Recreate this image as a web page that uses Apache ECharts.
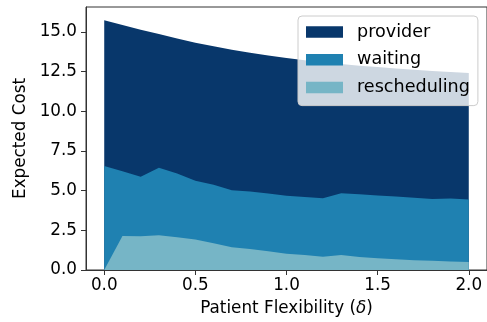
<!DOCTYPE html>
<html>
<head>
<meta charset="utf-8">
<script src="https://cdn.jsdelivr.net/npm/echarts@6/dist/echarts.min.js"></script>
<style>html,body{margin:0;padding:0;background:#fff}#c{width:487px;height:322px}</style>
</head>
<body>
<div id="c"></div>
<script>
const flexibility = [0, 0.1, 0.2, 0.3, 0.4, 0.5, 0.6, 0.7, 0.8, 0.9, 1.0, 1.1, 1.2, 1.3, 1.4, 1.5, 1.6, 1.7, 1.8, 1.9, 2.0];
const rescheduling = [0, 2.15, 2.13, 2.19, 2.07, 1.92, 1.68, 1.43, 1.33, 1.18, 1.03, 0.95, 0.84, 0.95, 0.82, 0.74, 0.68, 0.62, 0.58, 0.54, 0.50];
const waiting = [6.55, 4.07, 3.75, 4.26, 4.01, 3.70, 3.69, 3.60, 3.62, 3.64, 3.65, 3.65, 3.68, 3.89, 3.95, 3.96, 3.95, 3.94, 3.90, 3.96, 3.94];
const provider = [9.20, 9.23, 9.27, 8.43, 8.52, 8.71, 8.73, 8.85, 8.75, 8.70, 8.69, 8.63, 8.58, 8.14, 8.11, 8.09, 8.07, 8.06, 8.07, 7.98, 7.98];
const xTicks = [0, 0.5, 1.0, 1.5, 2.0];
const yTicks = [0, 2.5, 5, 7.5, 10, 12.5, 15];

const FONT = 'DejaVu Sans';
const FS = 16.8;
const colors = {provider: '#08376b', waiting: '#1f81b1', rescheduling: '#76b5c6'};

// stack order bottom -> top: rescheduling, waiting, provider (cumulative built from the arrays)
const layers = [['rescheduling', rescheduling], ['waiting', waiting], ['provider', provider]];
const cumulative = {};
let running = flexibility.map(() => 0);
layers.forEach(([name, vals]) => {
  running = running.map((s, i) => s + vals[i]);
  cumulative[name] = running.slice();
});

function areaSeries(name, z) {
  return {
    name: name, type: 'line', data: cumulative[name].map((v, i) => [flexibility[i], v]),
    symbol: 'none', lineStyle: {width: 0}, smooth: false, z: z,
    itemStyle: {color: colors[name]},
    areaStyle: {color: colors[name], opacity: 1, origin: 'start'},
    emphasis: {disabled: true}
  };
}

const chart = echarts.init(document.getElementById('c'), null, {renderer: 'canvas'});
chart.setOption({
  animation: false,
  grid: {left: 86, top: 7, right: -2, bottom: 52, show: true, borderColor: '#333', borderWidth: 1, backgroundColor: 'transparent'},
  legend: {
    data: ['provider', 'waiting', 'rescheduling'],
    orient: 'vertical', left: 298, top: 16,
    padding: [7, 8, 9, 8],
    itemWidth: 37, itemHeight: 11.5, itemGap: 9.8,
    icon: 'rect',
    backgroundColor: 'rgba(255,255,255,0.8)',
    borderColor: '#cccccc', borderWidth: 1, borderRadius: 4,
    textStyle: {fontFamily: FONT, fontSize: 17.6, color: '#000', padding: [0, 0, 0, 9], lineHeight: 17},
    selectedMode: false
  },
  xAxis: {
    type: 'value', min: -0.1, max: 2.1,
    name: 'Patient Flexibility ({i|δ})', nameLocation: 'middle', nameGap: 30,
    nameTextStyle: {fontFamily: FONT, fontSize: FS, color: '#000',
      rich: {i: {fontFamily: FONT, fontSize: FS, fontStyle: 'italic', color: '#000'}}},
    axisLine: {show: true, onZero: false, lineStyle: {color: '#333', width: 1}},
    axisTick: {show: true, length: 5, lineStyle: {color: '#333'}, customValues: xTicks},
    axisLabel: {fontFamily: FONT, fontSize: FS, color: '#000', margin: 7, customValues: xTicks,
      formatter: v => v.toFixed(1)},
    splitLine: {show: false}
  },
  yAxis: {
    type: 'value', min: 0, max: 16.58,
    name: 'Expected Cost', nameLocation: 'middle', nameGap: 55,
    nameTextStyle: {fontFamily: FONT, fontSize: FS, color: '#000'},
    axisLine: {show: true, onZero: false, lineStyle: {color: '#333', width: 1}},
    axisTick: {show: true, length: 5, lineStyle: {color: '#333'}, customValues: yTicks},
    axisLabel: {fontFamily: FONT, fontSize: FS, color: '#000', margin: 9, customValues: yTicks,
      formatter: v => v.toFixed(1)},
    splitLine: {show: false}
  },
  series: [
    areaSeries('provider', 2),
    areaSeries('waiting', 3),
    areaSeries('rescheduling', 4)
  ]
});
</script>
</body>
</html>
